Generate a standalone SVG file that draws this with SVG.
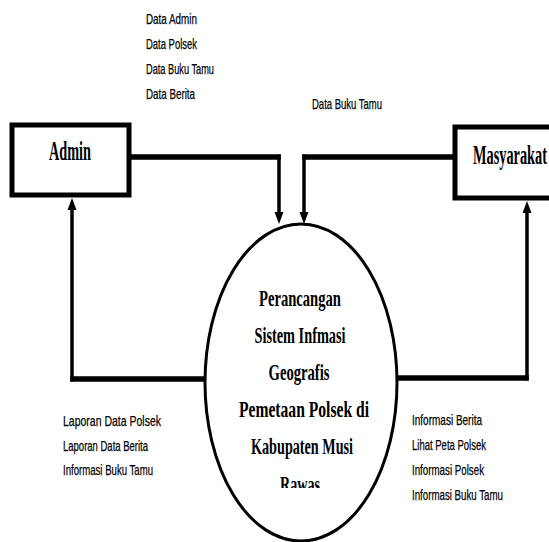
<svg xmlns="http://www.w3.org/2000/svg" width="549" height="542" viewBox="0 0 549 542">
<style>
.box{fill:#fff;stroke:#000;stroke-width:5}
.proc{fill:#fff;stroke:#000;stroke-width:3}
.h{stroke:#000;stroke-width:5.5;fill:none}
.v{stroke:#000;stroke-width:3.5;fill:none}
.lbl{font-family:"Liberation Sans",Arial,sans-serif;font-size:15px;fill:#000;stroke:#000;stroke-width:0.25}
.ent{font-family:"Liberation Serif","Times New Roman",serif;font-weight:bold;font-size:27px;fill:#000}
.pt{font-family:"Liberation Serif","Times New Roman",serif;font-weight:bold;font-size:23px;fill:#000;text-anchor:middle}
</style>
<defs>
<clipPath id="clipRawas"><rect x="0" y="0" width="549" height="488"/></clipPath>
</defs>
<g id="connectors">
<line class="h" x1="131" y1="157" x2="280.75" y2="157"/>
<line class="v" x1="279" y1="154.5" x2="279" y2="214"/>
<polygon points="274.5,212 283.5,212 279,224"/>
<line class="h" x1="453" y1="157" x2="302.25" y2="157"/>
<line class="v" x1="304" y1="154.5" x2="304" y2="214"/>
<polygon points="299.5,212 308.5,212 304,224"/>
<line class="h" x1="206" y1="379" x2="70.25" y2="379"/>
<line class="v" x1="72" y1="381.5" x2="72" y2="208"/>
<polygon points="67.5,210 76.5,210 72,198"/>
<line class="h" x1="396" y1="378" x2="528.75" y2="378"/>
<line class="v" x1="527" y1="380.5" x2="527" y2="211"/>
<polygon points="522.5,213 531.5,213 527,201"/>
</g>
<g id="admin">
<rect class="box" x="12" y="125" width="117" height="70"/>
<text class="ent" x="49" y="160" textLength="42" lengthAdjust="spacingAndGlyphs">Admin</text>
</g>
<g id="masyarakat">
<rect class="box" x="455" y="127" width="104" height="71"/>
<text class="ent" x="473" y="164" textLength="74" lengthAdjust="spacingAndGlyphs">Masyarakat</text>
</g>
<g id="process">
<ellipse class="proc" cx="301" cy="382.5" rx="96" ry="158.5"/>
<text class="pt" x="300" y="306" textLength="82" lengthAdjust="spacingAndGlyphs">Perancangan</text>
<text class="pt" x="300" y="343" textLength="91" lengthAdjust="spacingAndGlyphs">Sistem Infmasi</text>
<text class="pt" x="299" y="380" textLength="61" lengthAdjust="spacingAndGlyphs">Geografis</text>
<text class="pt" x="304" y="417" textLength="130" lengthAdjust="spacingAndGlyphs">Pemetaan Polsek di</text>
<text class="pt" x="302" y="454" textLength="102" lengthAdjust="spacingAndGlyphs">Kabupaten Musi</text>
<text class="pt" x="300" y="492" textLength="40" lengthAdjust="spacingAndGlyphs" clip-path="url(#clipRawas)">Rawas</text>
</g>
<g id="labels">
<text class="lbl" x="146" y="24" textLength="51" lengthAdjust="spacingAndGlyphs">Data Admin</text>
<text class="lbl" x="146" y="49" textLength="51" lengthAdjust="spacingAndGlyphs">Data Polsek</text>
<text class="lbl" x="146" y="74" textLength="68" lengthAdjust="spacingAndGlyphs">Data Buku Tamu</text>
<text class="lbl" x="146" y="99" textLength="49" lengthAdjust="spacingAndGlyphs">Data Berita</text>
<text class="lbl" x="312" y="109" textLength="70" lengthAdjust="spacingAndGlyphs">Data Buku Tamu</text>
<text class="lbl" x="63" y="426" textLength="98" lengthAdjust="spacingAndGlyphs">Laporan Data Polsek</text>
<text class="lbl" x="63" y="451" textLength="85" lengthAdjust="spacingAndGlyphs">Laporan Data Berita</text>
<text class="lbl" x="63" y="475" textLength="90" lengthAdjust="spacingAndGlyphs">Informasi Buku Tamu</text>
<text class="lbl" x="412" y="425" textLength="70" lengthAdjust="spacingAndGlyphs">Informasi Berita</text>
<text class="lbl" x="412" y="450" textLength="74" lengthAdjust="spacingAndGlyphs">Lihat Peta Polsek</text>
<text class="lbl" x="412" y="475" textLength="72" lengthAdjust="spacingAndGlyphs">Informasi Polsek</text>
<text class="lbl" x="412" y="500" textLength="91" lengthAdjust="spacingAndGlyphs">Informasi Buku Tamu</text>
</g>
</svg>
